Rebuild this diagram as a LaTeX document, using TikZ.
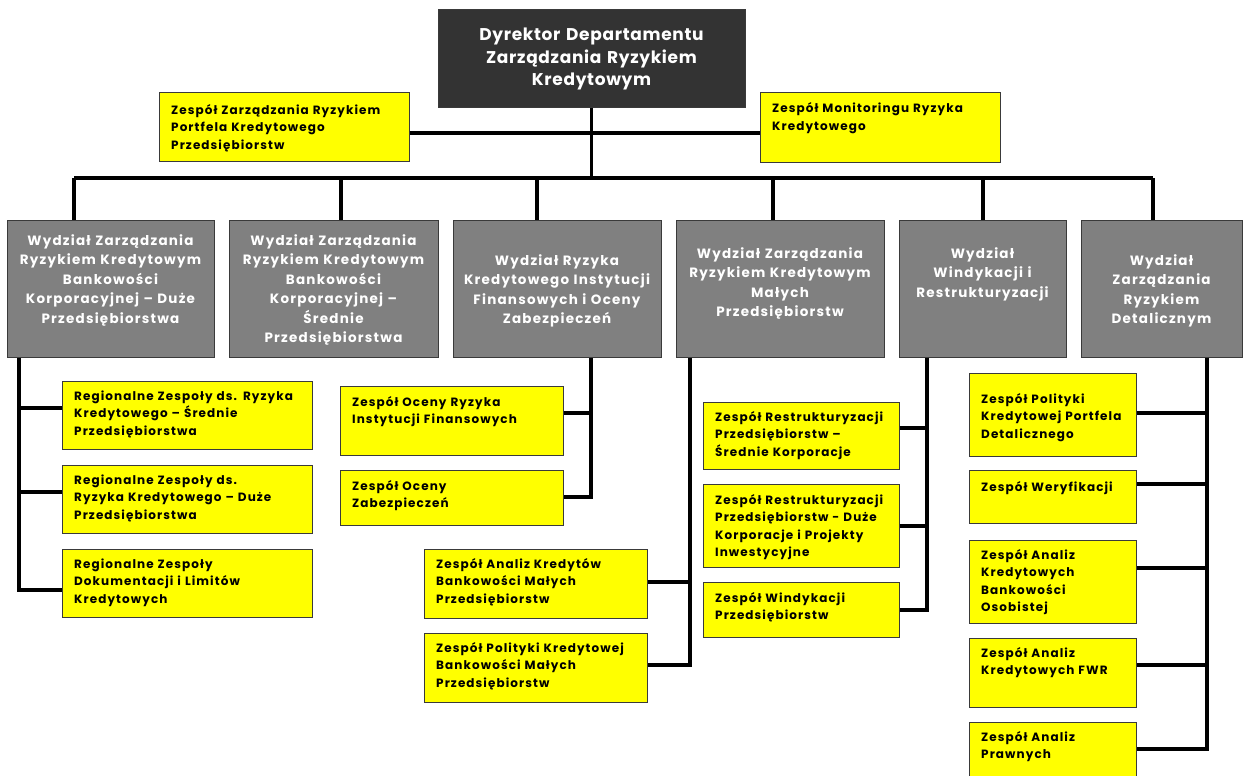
\documentclass[tikz,border=0pt]{standalone}
\usepackage{fontspec}
\setmainfont{Poppins}
\usetikzlibrary{calc}
\definecolor{ylw}{HTML}{FFFF00}
\definecolor{gry}{HTML}{808080}
\definecolor{dark}{HTML}{333333}
\definecolor{edge}{HTML}{3A3A3A}
\tikzset{
  ybox/.style={draw=edge, line width=1pt, fill=ylw, inner sep=0pt, rectangle},
  gbox/.style={draw=edge, line width=1pt, fill=gry, inner sep=0pt, rectangle},
  dbox/.style={draw=edge, line width=1pt, fill=dark, inner sep=0pt, rectangle},
  ytext/.style={inner sep=0pt, text width=#1, align=left, font=\fontsize{12}{17.5}\selectfont\bfseries\addfontfeature{LetterSpace=9}},
  gtext/.style={inner sep=0pt, text width=#1, align=center, text=white, font=\fontsize{13.5}{19.5}\selectfont\bfseries\addfontfeature{LetterSpace=9}},
  dtext/.style={inner sep=0pt, text width=300pt, align=center, text=white, font=\fontsize{17}{22.5}\selectfont\bfseries\addfontfeature{LetterSpace=4}},
  conn/.style={line width=3.3pt, line join=miter}
}
% name, x1, y1, x2, y2, baseline offset, text
\newcommand\YB[7]{%
  \node[ybox, minimum width={#4-#2}, minimum height={#5-#3}] (#1) at ({(#2+#4)/2},{(#3+#5)/2}) {};
  \node[ytext={#4-#2-14}, anchor=base west] (#1-t) at (#2+12,#3+#6) {#7};}
% name, x1, x2, baseline, text
\newcommand\GB[5]{%
  \node[gbox, minimum width={#3-#2}, minimum height=137] (#1) at ({(#2+#3)/2},288.5) {};
  \node[gtext={#3-#2-4}, anchor=base] (#1-t) at ({(#2+#3)/2},#4) {#5};}
\begin{document}
\begin{tikzpicture}[x=1pt,y=-1pt]
\useasboundingbox (0,0) rectangle (1243,776);
\fill[white] (0,0) rectangle (1243,776);

% director
\node[dbox, minimum width=307, minimum height=97] (dir) at (591.5,58.5) {};
\node[dtext, anchor=base] (dir-t) at (591.5,41) {Dyrektor Departamentu\\Zarządzania Ryzykiem\\Kredytowym};

% teams under director
\YB{L}{159}{93}{409}{161}{21}{Zespół Zarządzania Ryzykiem\\Portfela Kredytowego\\Przedsiębiorstw}
\YB{R}{760}{93}{1000}{162}{20}{Zespół Monitoringu Ryzyka\\Kredytowego}

% departments
\GB{g1}{7}{214}{245}{Wydział Zarządzania\\Ryzykiem Kredytowym\\Bankowości\\Korporacyjnej – Duże\\Przedsiębiorstwa}
\GB{g2}{229}{438}{245}{Wydział Zarządzania\\Ryzykiem Kredytowym\\Bankowości\\Korporacyjnej –\\Średnie\\Przedsiębiorstwa}
\GB{g3}{453}{661}{265}{Wydział Ryzyka\\Kredytowego Instytucji\\Finansowych i Oceny\\Zabezpieczeń}
\GB{g4}{676}{884}{258}{Wydział Zarządzania\\Ryzykiem Kredytowym\\Małych\\Przedsiębiorstw}
\GB{g5}{899}{1066}{258}{Wydział\\Windykacji i\\Restrukturyzacji}
\GB{g6}{1081}{1242}{265}{Wydział\\Zarządzania\\Ryzykiem\\Detalicznym}

% column 1 teams
\YB{ra}{62}{381}{312}{449}{19}{Regionalne Zespoły ds. Ryzyka\\Kredytowego – Średnie\\Przedsiębiorstwa}
\YB{rb}{62}{465}{312}{533}{19}{Regionalne Zespoły ds.\\Ryzyka Kredytowego – Duże\\Przedsiębiorstwa}
\YB{rc}{62}{549}{312}{617}{19}{Regionalne Zespoły\\Dokumentacji i Limitów\\Kredytowych}
% column 3 teams
\YB{oa}{340}{386}{563}{455}{20}{Zespół Oceny Ryzyka\\Instytucji Finansowych}
\YB{ob}{340}{470}{563}{525}{20}{Zespół Oceny\\Zabezpieczeń}
% column 4 teams
\YB{ma}{424}{549}{647}{618}{19}{Zespół Analiz Kredytów\\Bankowości Małych\\Przedsiębiorstw}
\YB{mb}{424}{633}{647}{702}{19}{Zespół Polityki Kredytowej\\Bankowości Małych\\Przedsiębiorstw}
% column 5 teams
\YB{wa}{703}{402}{899}{469}{19}{Zespół Restrukturyzacji\\Przedsiębiorstw –\\Średnie Korporacje}
\YB{wb}{703}{484}{899}{567}{20}{Zespół Restrukturyzacji\\Przedsiębiorstw - Duże\\Korporacje i Projekty\\Inwestycyjne}
\YB{wc}{703}{582}{899}{637}{20}{Zespół Windykacji\\Przedsiębiorstw}
% column 6 teams
\YB{da}{969}{373}{1136}{456}{30}{Zespół Polityki\\Kredytowej Portfela\\Detalicznego}
\YB{db}{969}{470}{1136}{523}{21}{Zespół Weryfikacji}
\YB{dc}{969}{540}{1136}{623}{19}{Zespół Analiz\\Kredytowych\\Bankowości\\Osobistej}
\YB{dd}{969}{638}{1136}{707}{19}{Zespół Analiz\\Kredytowych FWR}
\YB{de}{969}{722}{1136}{790}{19}{Zespół Analiz\\Prawnych}

% connectors top
\coordinate (h) at (592,133);
\coordinate (d1) at (74,178);
\coordinate (d2) at (341,178);
\coordinate (d3) at (537,178);
\coordinate (d4) at (773,178);
\coordinate (d5) at (983,178);
\coordinate (d6) at (1153,178);
\draw[conn] (dir.south) -- (dir.south |- d1);
\draw[conn] (L.east |- h) -- (R.west |- h);
\draw[conn] (d1) -- (d6);
\foreach \i in {1,...,6} { \draw[conn] (d\i) -- (d\i |- g\i.north); }

% column 1
\draw[conn] (g1.south -| 19,0) |- (rc.west |- 0,590);
\draw[conn] (ra.west |- 0,408) -- (19,408);
\draw[conn] (rb.west |- 0,492) -- (19,492);
% column 3
\draw[conn] (g3.south -| 591,0) |- (ob.east |- 0,497);
\draw[conn] (oa.east |- 0,413) -- (591,413);
% column 4
\draw[conn] (g4.south -| 690,0) |- (mb.east |- 0,665);
\draw[conn] (ma.east |- 0,582) -- (690,582);
% column 5
\draw[conn] (g5.south -| 927,0) |- (wc.east |- 0,610);
\draw[conn] (wa.east |- 0,428) -- (927,428);
\draw[conn] (wb.east |- 0,526) -- (927,526);
% column 6
\draw[conn] (g6.south -| 1207,0) |- (de.east |- 0,749);
\draw[conn] (da.east |- 0,413) -- (1207,413);
\draw[conn] (db.east |- 0,484) -- (1207,484);
\draw[conn] (dc.east |- 0,568) -- (1207,568);
\draw[conn] (dd.east |- 0,665) -- (1207,665);
\end{tikzpicture}
\end{document}
